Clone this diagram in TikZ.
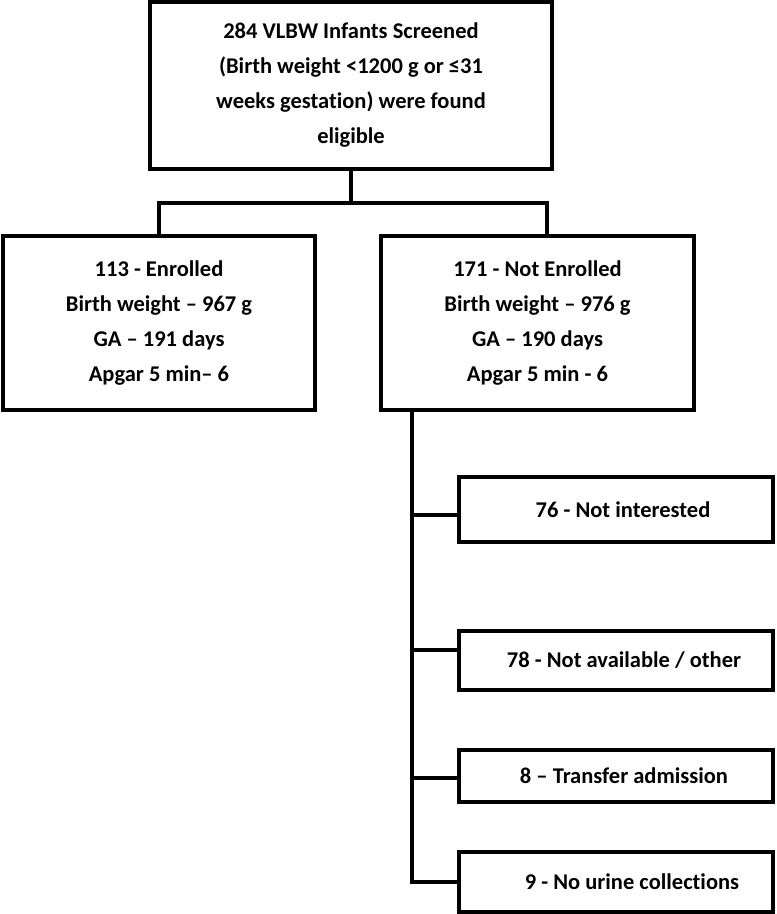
\documentclass[tikz,border=0pt]{standalone}
\usepackage{fontspec}
\setmainfont{Carlito}[Ligatures={NoCommon}]
\begin{document}
\begin{tikzpicture}[x=1pt,y=-1pt,
  box/.style={draw=black, line width=3.6pt, rectangle, inner sep=0pt, align=center,
    font=\fontsize{22.5}{35}\selectfont\bfseries},
  conn/.style={draw=black, line width=3.6pt}]
\useasboundingbox (0,0) rectangle (777,914);
\node[box, minimum width=402pt, minimum height=167pt] (top) at (351,85.5)
  {284 VLBW Infants Screened\\(Birth weight <1200 g or ≤31\\weeks gestation) were found\\eligible};
\node[box, minimum width=312pt, minimum height=174pt] (left) at (159,323)
  {113 - Enrolled\\Birth weight – 967 g\\GA – 191 days\\Apgar 5 min– 6};
\node[box, minimum width=313pt, minimum height=174pt] (right) at (537.5,323)
  {171 - Not Enrolled\\Birth weight – 976 g\\GA – 190 days\\Apgar 5 min - 6};
\node[box, minimum width=314pt, minimum height=65pt] (b1) at (616,509.5)
  {\hspace*{14pt}76 - Not interested};
\node[box, minimum width=314pt, minimum height=59pt] (b2) at (616,660.5)
  {\hspace*{16pt}78 - Not available / other};
\node[box, minimum width=314pt, minimum height=52pt] (b3) at (616,776)
  {\hspace*{16pt}8 – Transfer admission};
\node[box, minimum width=314pt, minimum height=60pt] (b4) at (616,882)
  {\hspace*{32pt}9 - No urine collections};
\coordinate (j) at (351,203);
\coordinate (rd) at (547,236);
\draw[conn] (top.south) -- (j);
\draw[conn] (left.north) |- (j) -| (rd);
\coordinate (sp) at (412,410);
\coordinate (c1) at (412,515);
\coordinate (c2) at (412,650);
\coordinate (c3) at (412,778);
\coordinate (c4) at (412,882);
\draw[conn] (sp) -- (c4) -- (b4.west);
\draw[conn] (c1) -- (c1 -| b1.west);
\draw[conn] (c2) -- (c2 -| b2.west);
\draw[conn] (c3) -- (c3 -| b3.west);
\end{tikzpicture}
\end{document}
